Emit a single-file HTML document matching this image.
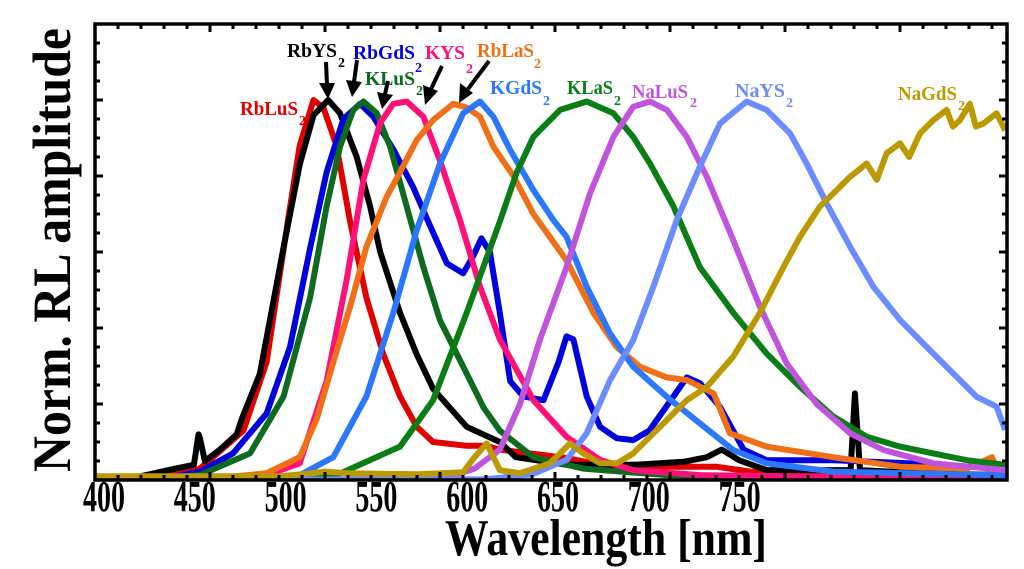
<!DOCTYPE html>
<html><head><meta charset="utf-8"><style>
html,body{margin:0;padding:0;background:#fff;}
svg{display:block;}
text{font-family:"Liberation Serif",serif;font-weight:bold;}
</style></head><body>
<svg id="chart" width="1024" height="569" viewBox="0 0 1024 569" xmlns="http://www.w3.org/2000/svg">
<g id="series"></g>
<g id="axes"></g>
<g id="labels"></g>
</svg>
<script>
const xTickLabels = ["400","450","500","550","600","650","700","750"];
const seriesNames = ["RbLuS","RbYS","RbGdS","KLuS","KYS","RbLaS","KGdS","KLaS","NaLuS","NaYS","NaGdS"];
const seriesColors = ["#e00000","#000000","#0000dd","#0e6a1e","#ff1177","#f07018","#2b78ff","#0a7d14","#c055dd","#6b8dff","#bb9900"];

const wlRbLuS = [400,420,440,445.6,464.5,474.6,483.3,489,495,499.3,505,510.9,518,525.4,532.6,539.9,547,561.6,570,576,605,619.6,648.6,670,685,721,796];
const vRbLuS  = [0,0.005,0.02,0.03,0.13,0.31,0.66,0.88,1.0,0.98,0.88,0.68,0.48,0.33,0.22,0.14,0.10,0.09,0.09,0.08,0.058,0.04,0.035,0.035,0.022,0.013,0.01];

const wlRbYS = [400,420,435,443,445,445.6,447.8,454.3,461.6,463.8,471.7,481.9,489,495,501.4,506.5,513.8,519.6,524,532.6,539.9,547,561.6,576,583,605,634,656,666,672.5,680,692,706,728.5,730.4,732.6,760,796];
const vRbYS  = [0,0.01,0.03,0.04,0.12,0.11,0.05,0.08,0.12,0.16,0.28,0.61,0.83,0.96,1.0,0.965,0.85,0.72,0.60,0.44,0.33,0.24,0.14,0.10,0.06,0.04,0.04,0.048,0.06,0.08,0.052,0.026,0.026,0.026,0.228,0.026,0.018,0.013];

const wlRbGdS = [400,420,435,445.6,460,474.6,484.8,493.5,500.7,508,515.2,521,529.7,538.4,545.6,553,560.1,564.5,568,571.7,576,580.5,586.2,595,601.5,605,608,613.8,619.6,626.8,634,641,651.5,657.3,663,671.7,682,692,721,750,796];
const vRbGdS  = [0,0.004,0.01,0.022,0.07,0.175,0.35,0.61,0.81,0.95,0.99,0.956,0.87,0.77,0.67,0.57,0.544,0.59,0.636,0.60,0.44,0.26,0.22,0.21,0.31,0.378,0.37,0.22,0.14,0.11,0.105,0.13,0.22,0.27,0.255,0.193,0.08,0.052,0.052,0.045,0.03];

const wlKLuS = [400,430,445.6,467.4,482,493.5,500.7,506.5,512.3,516.7,522.5,528.3,535.5,542.8,550,561.6,569,576,590.6,612.3,648.6,700,796];
const vKLuS  = [0,0.004,0.013,0.07,0.22,0.48,0.72,0.877,0.974,0.996,0.965,0.877,0.72,0.56,0.42,0.28,0.19,0.13,0.06,0.03,0.013,0.007,0.005];

const wlKYS = [400,450,474.6,489,500.7,509.4,516.7,524,529.7,535.5,542.8,550,558.7,567.4,576,590.6,605,619.6,634,663,721,796];
const vKYS  = [0,0.002,0.013,0.044,0.26,0.526,0.79,0.94,0.99,0.996,0.956,0.84,0.684,0.509,0.37,0.21,0.114,0.053,0.026,0.013,0.008,0.005];

const wlRbLaS = [400,450,474.6,489,496.4,503.6,510.9,518,526.8,532.6,539.9,547,555.8,561.6,567.4,573.2,581.9,590.6,605,616.7,626.8,637,648.6,657.3,669,676,692,721,750,779,790,792,796];
const vRbLaS  = [0,0.003,0.018,0.06,0.16,0.31,0.456,0.614,0.745,0.81,0.895,0.947,0.99,0.98,0.956,0.877,0.8,0.70,0.578,0.44,0.35,0.298,0.27,0.263,0.228,0.123,0.088,0.06,0.035,0.03,0.06,0.03,0.025];

const wlKGdS = [400,470,489,503.6,518,529.7,539.9,550,560.1,567.4,573.2,580.4,590.6,599.3,605,613.8,623.9,634,648.6,663,677.5,692,721,796];
const vKGdS  = [0,0.003,0.013,0.06,0.22,0.44,0.658,0.833,0.965,0.996,0.956,0.87,0.763,0.684,0.64,0.509,0.386,0.298,0.219,0.149,0.079,0.044,0.022,0.012];

const wlKLaS = [400,480,503.6,532.6,547,561.6,576,583.4,590.6,602.2,613.8,625.4,634,641.3,651.5,663,677.5,692,706.5,721,735.5,750,764.5,779,796];
const vKLaS  = [0,0.002,0.009,0.088,0.21,0.44,0.68,0.81,0.903,0.974,0.996,0.965,0.903,0.833,0.72,0.56,0.44,0.333,0.245,0.167,0.114,0.088,0.07,0.052,0.04];

const wlNaLuS = [400,540,555,565,576,584.8,593.5,605,615.2,625.4,634,641.3,648.6,657.3,666,677.5,689.1,700.7,713.8,728.3,742.8,764.5,796];
const vNaLuS  = [0,0.002,0.01,0.03,0.08,0.2,0.37,0.56,0.754,0.903,0.982,0.996,0.974,0.903,0.798,0.631,0.456,0.307,0.2,0.123,0.079,0.044,0.026];

const wlNaYS = [400,570,590,605,613.8,623.9,634,642.8,652.9,663,671.7,683.3,692,702.2,709.4,718.1,728.3,738.4,750,761.6,773.2,783.3,792,795.7];
const vNaYS  = [0,0.002,0.015,0.053,0.123,0.263,0.368,0.509,0.684,0.825,0.938,0.996,0.974,0.912,0.833,0.728,0.614,0.509,0.421,0.35,0.28,0.219,0.193,0.132];

const wlNaGdS = [400,480,490,500,510,540,560,565,570.3,576,584.8,597.8,606.5,612.3,619.6,627,634,641.3,648.6,657.3,666,677.5,689.1,699.3,706.5,715.2,721,728.3,735.5,739.9,744.2,750,754,758.7,764.5,770.3,773,776.1,780.4,783,786.2,792,795.7];
const vNaGdS  = [0.01,0.01,0.015,0.022,0.018,0.015,0.02,0.06,0.096,0.026,0.018,0.044,0.096,0.07,0.044,0.044,0.07,0.114,0.158,0.21,0.245,0.325,0.44,0.56,0.64,0.72,0.754,0.798,0.833,0.79,0.86,0.886,0.85,0.912,0.947,0.974,0.93,0.947,0.99,0.93,0.938,0.965,0.92];

const seriesWl = [wlRbLuS,wlRbYS,wlRbGdS,wlKLuS,wlKYS,wlRbLaS,wlKGdS,wlKLaS,wlNaLuS,wlNaYS,wlNaGdS];
const seriesV  = [vRbLuS,vRbYS,vRbGdS,vKLuS,vKYS,vRbLaS,vKGdS,vKLaS,vNaLuS,vNaYS,vNaGdS];

const X0=95,X1=1007,Y0=480,Y1=24, NM0=400, NM1=(X1-X0)/2.3+400;
function xs(nm){return X0+(nm-NM0)*(X1-X0)/(NM1-NM0);}
function ys(v){return Y0-v*380;}
const NS="http://www.w3.org/2000/svg";
function mk(tag,attrs,parent){const e=document.createElementNS(NS,tag);for(const k in attrs)e.setAttribute(k,attrs[k]);parent.appendChild(e);return e;}

const sg=document.getElementById('series');
const clip=mk('clipPath',{id:'pc'},sg);mk('rect',{x:X0,y:Y1,width:X1-X0,height:Y0-Y1},clip);
seriesNames.forEach((n,i)=>{
  const pts=seriesWl[i].map((w,j)=>xs(w).toFixed(1)+','+ys(seriesV[i][j]).toFixed(1)).join(' ');
  const p=mk('polyline',{points:pts,fill:'none',stroke:seriesColors[i],'stroke-width':6,'stroke-linejoin':'round','clip-path':'url(#pc)'},sg);
  
  
});

const ag=document.getElementById('axes');
const box=mk('rect',{x:X0,y:Y1,width:X1-X0,height:Y0-Y1,fill:'none',stroke:'#000','stroke-width':3.5},ag);


for(let nm=400;nm<NM1-1;nm+=10){
  const x=xs(nm), L=(nm%50===0)?8:5;
  mk('line',{x1:x,y1:Y0,x2:x,y2:Y0-L,stroke:'#000','stroke-width':3},ag);
  mk('line',{x1:x,y1:Y1,x2:x,y2:Y1+L,stroke:'#000','stroke-width':3},ag);
}
for(let k=1;k<24;k++){
  const y=ys(k*0.05), L=(k%4===0)?8:5;
  mk('line',{x1:X0,y1:y,x2:X0+L,y2:y,stroke:'#000','stroke-width':3},ag);
  mk('line',{x1:X1,y1:y,x2:X1-L,y2:y,stroke:'#000','stroke-width':3},ag);
}
xTickLabels.forEach((t,i)=>{
  const e=mk('text',{x:104+i*90.8,y:511,'text-anchor':'middle','font-size':44,textLength:42,lengthAdjust:'spacingAndGlyphs'},ag);
  e.textContent=t;
  
  
});
</script>
<svg style="position:absolute;left:0;top:0" width="1024" height="569">
<text transform="translate(70,472) rotate(-90)" font-size="54" textLength="444" lengthAdjust="spacingAndGlyphs">Norm. RL amplitude</text>
<text x="445" y="555" font-size="52" textLength="322" lengthAdjust="spacingAndGlyphs">Wavelength [nm]</text>
<g font-size="20">
<text x="240" y="115" fill="#e00000" textLength="58" lengthAdjust="spacingAndGlyphs">RbLuS</text><text x="299" y="125" font-size="14" fill="#e00000">2</text>
<text x="287" y="57" fill="#000" textLength="50" lengthAdjust="spacingAndGlyphs">RbYS</text><text x="338" y="67" font-size="14" fill="#000">2</text>
<text x="353" y="59" fill="#0000dd" textLength="62" lengthAdjust="spacingAndGlyphs">RbGdS</text><text x="415" y="72" font-size="14" fill="#0000dd">2</text>
<text x="365" y="85" fill="#0e6a1e" textLength="50" lengthAdjust="spacingAndGlyphs">KLuS</text><text x="416" y="95" font-size="14" fill="#0e6a1e">2</text>
<text x="425" y="59" fill="#ff1177" textLength="40" lengthAdjust="spacingAndGlyphs">KYS</text><text x="466" y="73" font-size="14" fill="#ff1177">2</text>
<text x="477" y="57" fill="#f07018" textLength="57" lengthAdjust="spacingAndGlyphs">RbLaS</text><text x="534" y="68" font-size="14" fill="#f07018">2</text>
<text x="490" y="94" fill="#2b78ff" textLength="52" lengthAdjust="spacingAndGlyphs">KGdS</text><text x="543" y="105" font-size="14" fill="#2b78ff">2</text>
<text x="567" y="94" fill="#0a7d14" textLength="46" lengthAdjust="spacingAndGlyphs">KLaS</text><text x="614" y="105" font-size="14" fill="#0a7d14">2</text>
<text x="632" y="98" fill="#c055dd" textLength="56" lengthAdjust="spacingAndGlyphs">NaLuS</text><text x="690" y="107" font-size="14" fill="#c055dd">2</text>
<text x="735" y="97" fill="#6b8dff" textLength="50" lengthAdjust="spacingAndGlyphs">NaYS</text><text x="786" y="107" font-size="14" fill="#6b8dff">2</text>
<text x="898" y="100" fill="#bb9900" textLength="59" lengthAdjust="spacingAndGlyphs">NaGdS</text><text x="958" y="110" font-size="14" fill="#bb9900">2</text>
</g>
<g stroke="#000" stroke-width="4" fill="#000">
<line x1="326" y1="62" x2="327" y2="85"/><polygon points="319,83 335,83 328,99" stroke="none"/>
<line x1="357" y1="60" x2="354" y2="82"/><polygon points="346,80 362,82 352,97" stroke="none"/>
<line x1="388" y1="81" x2="385" y2="94"/><polygon points="377,92 393,95 382,109" stroke="none"/>
<line x1="442" y1="66" x2="431" y2="89"/><polygon points="423,85 438,91 425,105" stroke="none"/>
<line x1="489" y1="61" x2="468" y2="89"/><polygon points="460,83 473,93 459,103" stroke="none"/>
</g>
</svg>
</body></html>
